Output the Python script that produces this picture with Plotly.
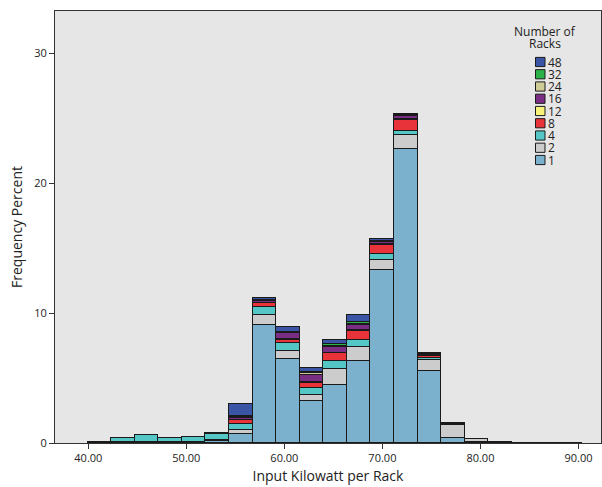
import plotly.graph_objects as go

# Bin centers (Input Kilowatt per Rack) and bin width
bin_centers = [41.13, 43.54, 45.94, 48.34, 50.75, 53.15, 55.56, 57.96, 60.36, 62.77,
               65.17, 67.58, 69.98, 72.38, 74.79, 77.19, 79.60, 82.00, 84.40, 86.81, 89.21]
bin_width = 2.404

# Frequency percent per bin for each "Number of Racks" group
racks_1 = [0.05, 0.05, 0.05, 0.05, 0.05, 0.15, 0.72, 9.08, 6.50, 3.20, 4.50, 6.35, 13.28, 22.64, 5.58, 0.35, 0.10, 0.05, 0.03, 0.03, 0.03]
racks_2 = [0, 0, 0, 0, 0, 0.05, 0.30, 0.80, 0.60, 0.50, 1.20, 1.05, 0.80, 1.05, 0.80, 1.00, 0.20, 0.05, 0, 0, 0]
racks_4 = [0.05, 0.30, 0.60, 0.30, 0.45, 0.50, 0.46, 0.60, 0.60, 0.50, 0.60, 0.55, 0.45, 0.30, 0.15, 0.10, 0, 0, 0, 0, 0]
racks_8 = [0, 0, 0, 0, 0, 0.05, 0.27, 0.26, 0.25, 0.42, 0.60, 0.70, 0.70, 0.90, 0.18, 0.08, 0, 0, 0, 0, 0]
racks_12 = [0, 0, 0, 0, 0, 0, 0.05, 0.05, 0.05, 0.05, 0.05, 0.05, 0.05, 0.05, 0.03, 0, 0, 0, 0, 0, 0]
racks_16 = [0, 0, 0, 0, 0, 0, 0.15, 0.15, 0.45, 0.56, 0.46, 0.40, 0.20, 0.20, 0.05, 0, 0, 0, 0, 0, 0]
racks_24 = [0, 0, 0, 0, 0, 0, 0.05, 0.05, 0.05, 0.15, 0.05, 0.05, 0.05, 0.05, 0.03, 0, 0, 0, 0, 0, 0]
racks_32 = [0, 0, 0, 0, 0, 0, 0.05, 0.05, 0.05, 0.05, 0.15, 0.15, 0.05, 0.05, 0.03, 0, 0, 0, 0, 0, 0]
racks_48 = [0, 0, 0, 0, 0, 0, 0.98, 0.15, 0.35, 0.35, 0.30, 0.55, 0.15, 0.05, 0.04, 0, 0, 0, 0, 0, 0]

rack_labels = ["1", "2", "4", "8", "12", "16", "24", "32", "48"]
rack_series = [racks_1, racks_2, racks_4, racks_8, racks_12, racks_16, racks_24, racks_32, racks_48]
rack_colors = ["#7BB1CC", "#CCCCCC", "#55C6C6", "#E8333A", "#F7F27A", "#7A2E83", "#D0CC98", "#2DB24A", "#3A55A6"]

x_ticks = [40, 50, 60, 70, 80, 90]
y_ticks = [0, 10, 20, 30]

W, H = 602, 487
ML, MR, MT, MB = 55, 1, 11, 44

fig = go.Figure()
for lab, vals, col in zip(rack_labels, rack_series, rack_colors):
    fig.add_trace(go.Bar(
        x=bin_centers, y=vals, width=bin_width, name=lab,
        marker=dict(color=col, line=dict(color="#1a1a1a", width=1)),
        showlegend=False,
    ))

# manual compact legend
pw = W - ML - MR
ph = H - MT - MB
def px(X):
    return (X - ML) / pw
def py(Y):
    return (H - MB - Y) / ph

annotations = [
    dict(text="Number of", x=px(545), y=py(31.5), xref="paper", yref="paper",
         showarrow=False, xanchor="center", yanchor="middle", borderpad=0,
         font=dict(size=12, color="#222")),
    dict(text="Racks", x=px(545), y=py(43.5), xref="paper", yref="paper",
         showarrow=False, xanchor="center", yanchor="middle", borderpad=0,
         font=dict(size=12, color="#222")),
]
shapes = []
order = list(range(len(rack_labels)))[::-1]
for k, i in enumerate(order):
    yc = 62 + k * 12.25
    shapes.append(dict(type="rect", xref="paper", yref="paper",
                       x0=px(535.5), x1=px(545), y0=py(yc + 4.6), y1=py(yc - 4.6),
                       fillcolor=rack_colors[i], line=dict(color="#1a1a1a", width=1)))
    annotations.append(dict(text=rack_labels[i], x=px(546.5), y=py(yc), xref="paper", yref="paper",
                            showarrow=False, xanchor="left", yanchor="middle",
                            borderpad=0, font=dict(size=12, color="#222")))

fig.update_layout(
    width=W, height=H,
    margin=dict(l=ML, r=MR, t=MT, b=MB),
    barmode="stack", bargap=0,
    paper_bgcolor="white", plot_bgcolor="#E6E6E6",
    font=dict(family="Open Sans, DejaVu Sans, sans-serif", color="#222"),
    annotations=annotations, shapes=shapes,
    xaxis=dict(range=[36.6, 92.3], tickvals=x_ticks, tickformat=".2f",
               ticks="outside", ticklen=5, tickcolor="#333",
               showgrid=False, zeroline=False, showline=True, linecolor="#333",
               linewidth=1, mirror=True,
               title=dict(text="Input Kilowatt per Rack", font=dict(size=14), standoff=6),
               tickfont=dict(size=11)),
    yaxis=dict(range=[0, 33.25], tickvals=y_ticks,
               ticks="outside", ticklen=5, tickcolor="#333",
               showgrid=False, zeroline=False, showline=True, linecolor="#333",
               linewidth=1, mirror=True,
               title=dict(text="Frequency Percent", font=dict(size=14), standoff=8),
               tickfont=dict(size=11)),
)

fig.write_html("out.html", config={"displayModeBar": False},
               post_script="document.body.style.margin='0';document.body.style.overflow='hidden';")
